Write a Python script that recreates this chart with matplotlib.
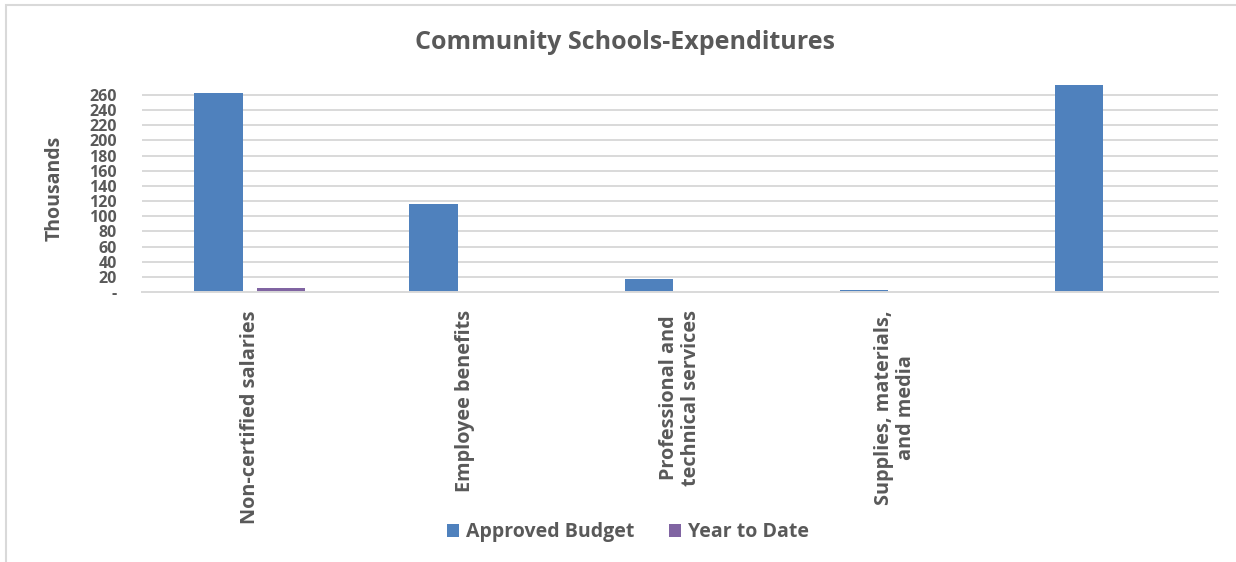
import numpy as np
import matplotlib.pyplot as plt
from matplotlib.patches import Rectangle

# Expenditure data (in thousands)
categories = ['Non-certified salaries', 'Employee benefits',
              'Professional and\ntechnical services',
              'Supplies, materials,\nand media', '']
approved_budget = [263, 116, 17, 3, 273]
year_to_date = [5, 0, 0, 0, 0]
yticks = [0, 20, 40, 60, 80, 100, 120, 140, 160, 180, 200, 220, 240, 260]
ytick_labels = ['-'] + [str(v) for v in yticks[1:]]

plt.rcParams['font.family'] = ['Open Sans', 'DejaVu Sans']
text_color = '#595959'
grid_color = '#d9d9d9'

fig = plt.figure(figsize=(12.36, 5.62), dpi=100)
ax = fig.add_axes([0.1149, 0.4804, 0.8705, 0.3701])

x = np.arange(len(categories))
width = 0.225
offset = 0.145
ax.bar(x - offset, approved_budget, width, color='#4f81bd', label='Approved Budget', zorder=2)
ax.bar(x + offset, year_to_date, width, color='#8064a2', label='Year to Date', zorder=2)

ax.set_xlim(-0.5, len(categories) - 0.5)
ax.set_ylim(0, 274.5)
ax.set_yticks(yticks)
ax.set_yticklabels(ytick_labels, fontsize=11.5, fontweight='bold', color=text_color)
ax.set_xticks(x)
ax.set_xticklabels(categories, rotation=90, va='top', ha='center', multialignment='center',
                   fontsize=14.3, fontweight='bold', color=text_color, linespacing=1.15)
ax.tick_params(axis='both', length=0)
ax.tick_params(axis='x', pad=13)
ax.tick_params(axis='y', pad=18)

for y in yticks[1:]:
    ax.axhline(y, color=grid_color, linewidth=1.4, zorder=1)
for side in ['top', 'right', 'left']:
    ax.spines[side].set_visible(False)
ax.spines['bottom'].set_color(grid_color)
ax.spines['bottom'].set_linewidth(1.4)

ax.set_ylabel('Thousands', fontsize=14, fontweight='bold', color=text_color, labelpad=18)

fig.text(0.506, 0.925, 'Community Schools-Expenditures', ha='center', va='center',
         fontsize=18, fontweight='bold', color=text_color)

leg = fig.legend(loc='center', bbox_to_anchor=(0.508, 0.053), ncol=2, frameon=False,
                 prop={'size': 14, 'weight': 'bold'}, handlelength=0.6, handleheight=0.6,
                 handletextpad=0.35, columnspacing=1.8)
for t in leg.get_texts():
    t.set_color(text_color)

# chart border
fig.patches.append(Rectangle((6 / 1236, -0.01), 1.02, 1 - 5 / 562 + 0.01, transform=fig.transFigure,
                             fill=False, edgecolor=grid_color, linewidth=1.5))

fig.savefig('out.png', dpi=100)
